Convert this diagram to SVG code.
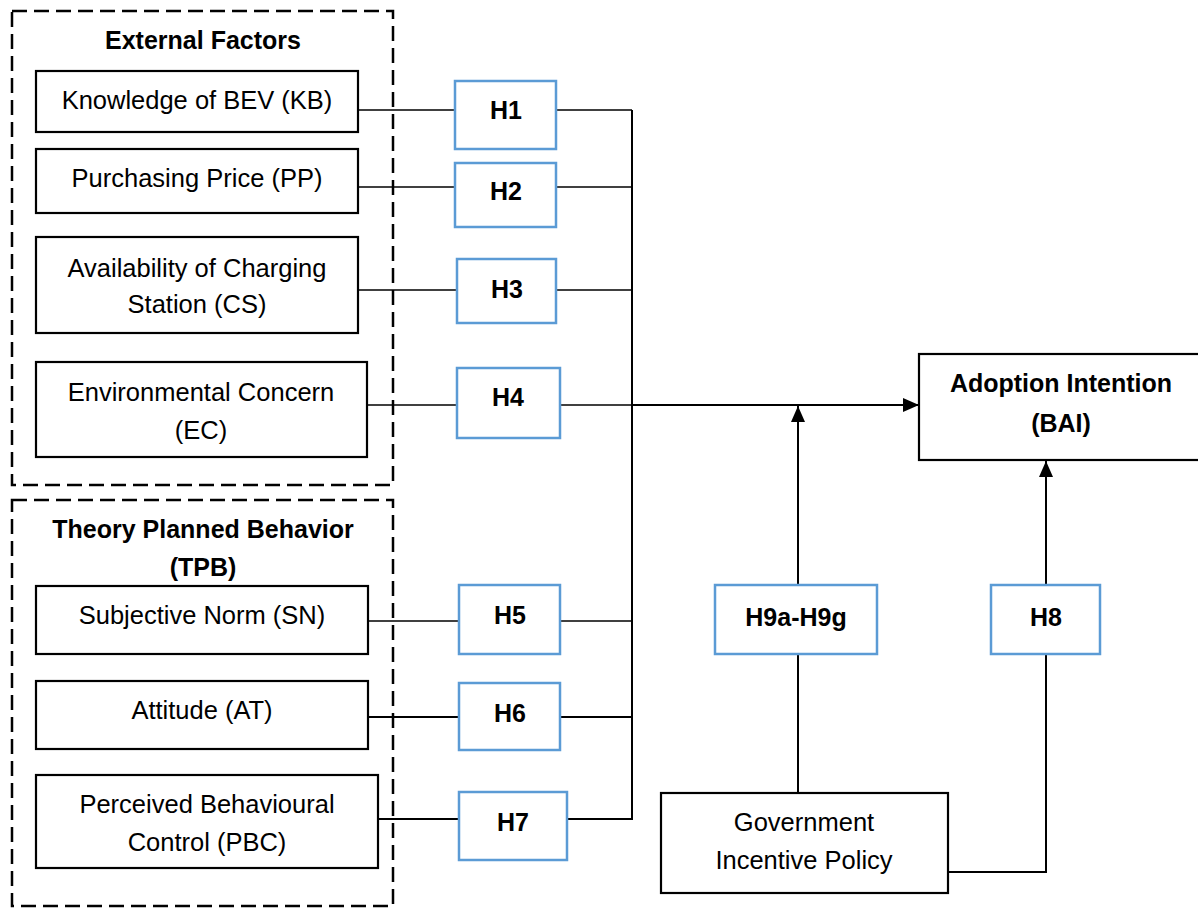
<svg xmlns="http://www.w3.org/2000/svg" width="1198" height="908" viewBox="0 0 1198 908">
<style>
.grp{fill:none;stroke:#000;stroke-width:2.5;stroke-dasharray:15 7}
.box{fill:#fff;stroke:#000;stroke-width:2.2}
.hb{fill:#fff;stroke:#5B9BD5;stroke-width:2.5}
.t{font-family:"Liberation Sans",Arial,sans-serif;font-size:25.5px;fill:#000;text-anchor:middle}
.b{font-family:"Liberation Sans",Arial,sans-serif;font-size:25px;font-weight:bold;fill:#000;text-anchor:middle}
.thin{fill:none;stroke:#000;stroke-width:1.3}
.thick{fill:none;stroke:#000;stroke-width:2}
</style>
<defs>
<marker id="arr" markerWidth="10" markerHeight="10" refX="9" refY="5" orient="auto" markerUnits="userSpaceOnUse" viewBox="0 0 10 10">
<path d="M0,0 L10,5 L0,10 Z" fill="#000"/>
</marker>
<marker id="arrL" markerWidth="16" markerHeight="16" refX="16" refY="8" orient="auto" markerUnits="userSpaceOnUse" viewBox="0 0 16 16">
<path d="M0,1 L16,8 L0,15 Z" fill="#000"/>
</marker>
</defs>
<rect width="1198" height="908" fill="#fff"/>

<g id="connectors">
<line class="thin" x1="358" y1="110" x2="455" y2="110"/>
<line class="thin" x1="556" y1="110" x2="632" y2="110"/>
<line class="thin" x1="358" y1="187" x2="455" y2="187"/>
<line class="thin" x1="556" y1="187" x2="632" y2="187"/>
<line class="thin" x1="358" y1="290" x2="457" y2="290"/>
<line class="thin" x1="556" y1="290" x2="632" y2="290"/>
<line class="thin" x1="367" y1="405" x2="457" y2="405"/>
<line class="thin" x1="560" y1="405" x2="632" y2="405"/>
<line class="thin" x1="368" y1="621" x2="459" y2="621"/>
<line class="thin" x1="560" y1="621" x2="632" y2="621"/>
<line class="thick" x1="368" y1="717" x2="459" y2="717"/>
<line class="thick" x1="560" y1="717" x2="632" y2="717"/>
<line class="thick" x1="378" y1="819" x2="459" y2="819"/>
<polyline class="thick" points="567,819 632,819 632,110"/>
<line class="thick" x1="632" y1="405" x2="919" y2="405" marker-end="url(#arrL)"/>
<line class="thick" x1="798" y1="793" x2="798" y2="654"/>
<line class="thick" x1="798" y1="585" x2="798" y2="406" marker-end="url(#arrL)"/>
<polyline class="thick" points="948,872 1046,872 1046,654"/>
<line class="thick" x1="1046" y1="585" x2="1046" y2="461" marker-end="url(#arrL)"/>
</g>

<g id="external-factors">
<rect class="grp" x="12" y="11" width="381" height="474"/>
<text class="b" x="203" y="49">External Factors</text>
</g>
<g id="tpb">
<rect class="grp" x="12" y="500" width="381" height="406"/>
<text class="b" x="203" y="538">Theory Planned Behavior</text>
<text class="b" x="203" y="576">(TPB)</text>
</g>

<g id="kb"><rect class="box" x="36" y="71" width="322" height="61"/><text class="t" x="197" y="109">Knowledge of BEV (KB)</text></g>
<g id="pp"><rect class="box" x="36" y="149" width="322" height="64"/><text class="t" x="197" y="187">Purchasing Price (PP)</text></g>
<g id="cs"><rect class="box" x="36" y="237" width="322" height="96"/><text class="t" x="197" y="277">Availability of Charging</text><text class="t" x="197" y="313">Station (CS)</text></g>
<g id="ec"><rect class="box" x="36" y="362" width="331" height="95"/><text class="t" x="201" y="401">Environmental Concern</text><text class="t" x="201" y="439">(EC)</text></g>
<g id="sn"><rect class="box" x="36" y="586" width="332" height="68"/><text class="t" x="202" y="624">Subjective Norm (SN)</text></g>
<g id="at"><rect class="box" x="36" y="681" width="332" height="68"/><text class="t" x="202" y="719">Attitude (AT)</text></g>
<g id="pbc"><rect class="box" x="36" y="775" width="342" height="93"/><text class="t" x="207" y="813">Perceived Behavioural</text><text class="t" x="207" y="851">Control (PBC)</text></g>

<g id="h1"><rect class="hb" x="455" y="81" width="101" height="68"/><text class="b" x="506" y="119">H1</text></g>
<g id="h2"><rect class="hb" x="455" y="163" width="101" height="64"/><text class="b" x="506" y="200">H2</text></g>
<g id="h3"><rect class="hb" x="457" y="259" width="99" height="64"/><text class="b" x="507" y="298">H3</text></g>
<g id="h4"><rect class="hb" x="457" y="368" width="103" height="70"/><text class="b" x="508" y="406">H4</text></g>
<g id="h5"><rect class="hb" x="459" y="585" width="101" height="69"/><text class="b" x="510" y="624">H5</text></g>
<g id="h6"><rect class="hb" x="459" y="683" width="101" height="67"/><text class="b" x="510" y="722">H6</text></g>
<g id="h7"><rect class="hb" x="459" y="792" width="108" height="68"/><text class="b" x="513" y="831">H7</text></g>
<g id="h9"><rect class="hb" x="715" y="585" width="162" height="69"/><text class="b" x="796" y="626">H9a-H9g</text></g>
<g id="h8"><rect class="hb" x="991" y="585" width="109" height="69"/><text class="b" x="1046" y="626">H8</text></g>

<g id="bai"><rect class="box" x="919" y="354" width="300" height="106"/><text class="b" x="1061" y="392">Adoption Intention</text><text class="b" x="1061" y="432">(BAI)</text></g>
<g id="gov"><rect class="box" x="661" y="793" width="287" height="100"/><text class="t" x="804" y="831">Government</text><text class="t" x="804" y="869">Incentive Policy</text></g>
</svg>
